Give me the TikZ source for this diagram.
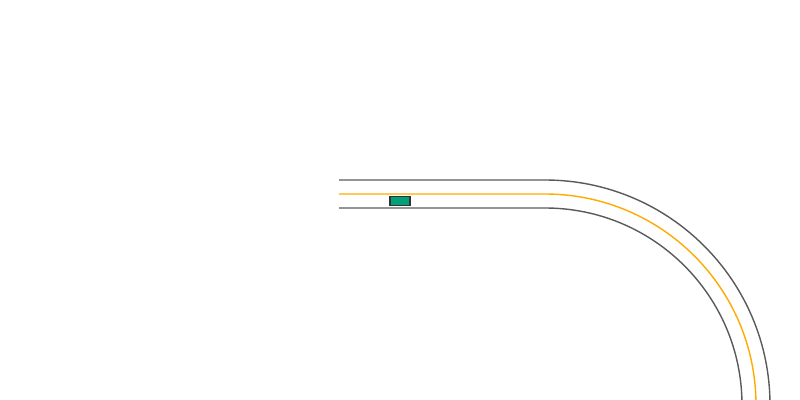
\documentclass[tikz,border=0pt]{standalone}
\usepackage{xcolor}
\definecolor{rdgray}{RGB}{90,90,90}
\definecolor{rdorange}{RGB}{255,170,0}
\definecolor{cargreen}{RGB}{0,160,120}
\definecolor{cardark}{RGB}{50,50,50}
\usetikzlibrary{positioning}

\tikzset{
  roadedge/.style={draw=rdgray, line width=1pt},
  centerline/.style={draw=rdorange, line width=1pt},
  carbox/.style={draw=cardark, fill=cargreen, line width=0.8pt,
                 minimum width=0.5cm, minimum height=0.225cm, inner sep=0pt}
}

\begin{document}
\begin{tikzpicture}[x=0.025cm, y=0.025cm]

\useasboundingbox (0,0) rectangle (800,400);
\clip (0,0) rectangle (800,400);

% === Road edges ===
\draw[roadedge] (339,220) -- (545,220) arc[start angle=90, end angle=0, radius=225];
\draw[roadedge] (339,192) -- (545,192) arc[start angle=90, end angle=0, radius=197];

% === Centre line ===
\draw[centerline] (339,206) -- (545,206) arc[start angle=90, end angle=0, radius=211];

% === Car ===
\node[carbox] (car) at (400,199.3) {};

\end{tikzpicture}
\end{document}
